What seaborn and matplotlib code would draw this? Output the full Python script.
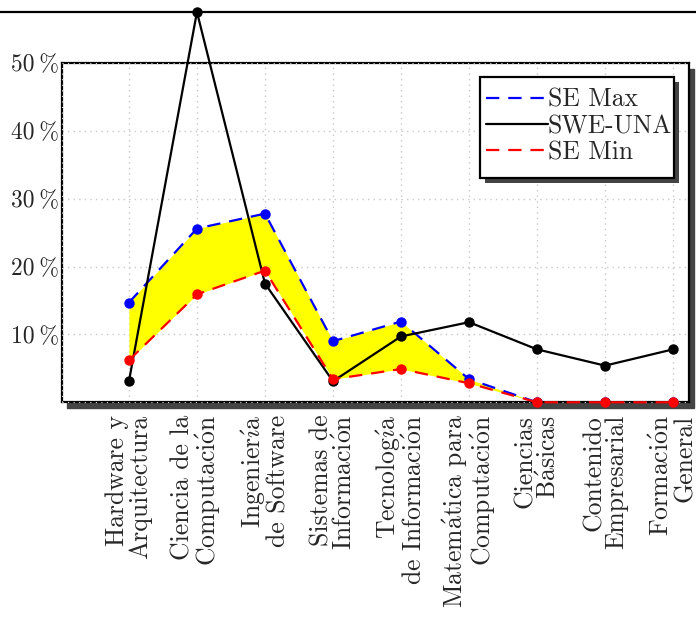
import numpy as np
import pandas as pd
import seaborn as sns
import matplotlib.pyplot as plt
from matplotlib.lines import Line2D
from matplotlib.patches import Rectangle

categories = ['Hardware y\nArquitectura',
              'Ciencia de la\nComputaci$\\mathrm{\\acute{o}}$n',
              'Ingenier$\\mathrm{\\acute{\\imath}}$a\nde Software',
              'Sistemas de\nInformaci$\\mathrm{\\acute{o}}$n',
              'Tecnolog$\\mathrm{\\acute{\\imath}}$a\nde Informaci$\\mathrm{\\acute{o}}$n',
              'Matem$\\mathrm{\\acute{a}}$tica para\nComputaci$\\mathrm{\\acute{o}}$n',
              'Ciencias\nB$\\mathrm{\\acute{a}}$sicas',
              'Contenido\nEmpresarial',
              'Formaci$\\mathrm{\\acute{o}}$n\nGeneral']
se_max = [14.7, 25.6, 27.8, 9.0, 11.9, 3.4, 0, 0, 0]
swe_una = [3.1, 57.5, 17.5, 3.1, 9.7, 11.8, 7.8, 5.4, 7.8]
se_min = [6.2, 15.9, 19.4, 3.4, 4.9, 2.8, 0, 0, 0]
yticks = [10, 20, 30, 40, 50]

sns.set_style('white')
plt.rcParams['font.family'] = ['cmr10', 'DejaVu Serif']
plt.rcParams['mathtext.fontset'] = 'cm'
plt.rcParams['axes.formatter.use_mathtext'] = True

pos = np.arange(len(categories))
df = pd.DataFrame({'pos': pos, 'SE Max': se_max, 'SWE-UNA': swe_una, 'SE Min': se_min})

fig = plt.figure(figsize=(6.96, 6.17), dpi=100)
ax = fig.add_axes([0.089, 0.348, 0.901, 0.55])
xmin, xmax = -0.985, 8.235

# grid
for x in pos:
    ax.plot([x, x], [0, 50], color='#c8c8c8', linestyle=(0, (1, 3)), linewidth=1, zorder=0)
for y in yticks:
    ax.plot([xmin, xmax], [y, y], color='#c8c8c8', linestyle=(0, (1, 3)), linewidth=1, zorder=0)

ax.fill_between(df['pos'], df['SE Max'], df['SE Min'], color='yellow', linewidth=0, zorder=1)

sns.lineplot(data=df, x='pos', y='SE Max', ax=ax, color='blue', linestyle=(0, (6, 4)),
             linewidth=1.6, marker='o', markersize=7.5, markeredgewidth=0, sort=False, zorder=2)
sns.lineplot(data=df, x='pos', y='SWE-UNA', ax=ax, color='black', linewidth=1.6,
             marker='o', markersize=7.5, markeredgewidth=0, sort=False, zorder=3, clip_on=False)
sns.lineplot(data=df, x='pos', y='SE Min', ax=ax, color='red', linestyle=(0, (6, 4)),
             linewidth=1.6, marker='o', markersize=7.5, markeredgewidth=0, sort=False, zorder=4,
             clip_on=False)

ax.set_xlim(xmin, xmax)
ax.set_ylim(0, 50)
ax.set_xticks(pos)
ax.set_xticklabels(categories, rotation=90, fontsize=18.5, ha='center', va='top',
                   multialignment='right', linespacing=0.95)
ax.set_yticks(yticks)
ax.set_yticklabels([f'{v}\u2009%' for v in yticks], fontsize=17)
ax.tick_params(axis='both', length=0, pad=2)
ax.tick_params(axis='x', pad=9)
ax.set_xlabel('')
ax.set_ylabel('')
for s in ax.spines.values():
    s.set_color('black')
    s.set_linewidth(1.6)

# dotted look on the frame edges
for xs, ys in [([xmin, xmin], [0, 50]), ([xmin, xmax], [50, 50]), ([xmin, xmax], [0, 0])]:
    ax.plot(xs, ys, color='#e0e0e0', linestyle=(0, (1, 4)), linewidth=0.8, zorder=3.5, clip_on=False)

# shadow behind the axes frame
bb = ax.get_position()
fig.patches.append(Rectangle((bb.x0 + 5 / 696, bb.y0 - 6 / 617), bb.width, bb.height,
                             transform=fig.transFigure, color='#444444', zorder=-1))

handles = [Line2D([], [], color='blue', linestyle=(0, (6, 4)), linewidth=1.6),
           Line2D([], [], color='black', linewidth=1.6),
           Line2D([], [], color='red', linestyle=(0, (6, 4)), linewidth=1.6)]
leg = ax.legend(handles, ['SE Max', 'SWE-UNA', 'SE Min'], loc='upper right',
                bbox_to_anchor=(0.973, 0.926), fontsize=18.5, handlelength=2.4, handletextpad=0,
                labelspacing=0.1, borderpad=0, frameon=False, borderaxespad=0)
leg.set_zorder(7)

# legend box with shadow, pgfplots style (extra room at the bottom)
fig.canvas.draw()
lb = leg.get_window_extent()
x0, x1 = lb.x0 - 6, lb.x1 + 2
y0, y1 = lb.y0 - 14, lb.y1 + 11
ax.add_patch(Rectangle((x0 + 5, y0 - 5), x1 - x0, y1 - y0, transform=None,
                       facecolor='#444444', edgecolor='none', zorder=5.5, clip_on=False))
ax.add_patch(Rectangle((x0, y0), x1 - x0, y1 - y0, transform=None,
                       facecolor='white', edgecolor='black', linewidth=1.6, zorder=6, clip_on=False))

fig.add_artist(Line2D([0, 1], [1 - 12 / 617, 1 - 12 / 617], transform=fig.transFigure,
                      color='black', linewidth=1.6))

fig.savefig('out.png', dpi=100)
